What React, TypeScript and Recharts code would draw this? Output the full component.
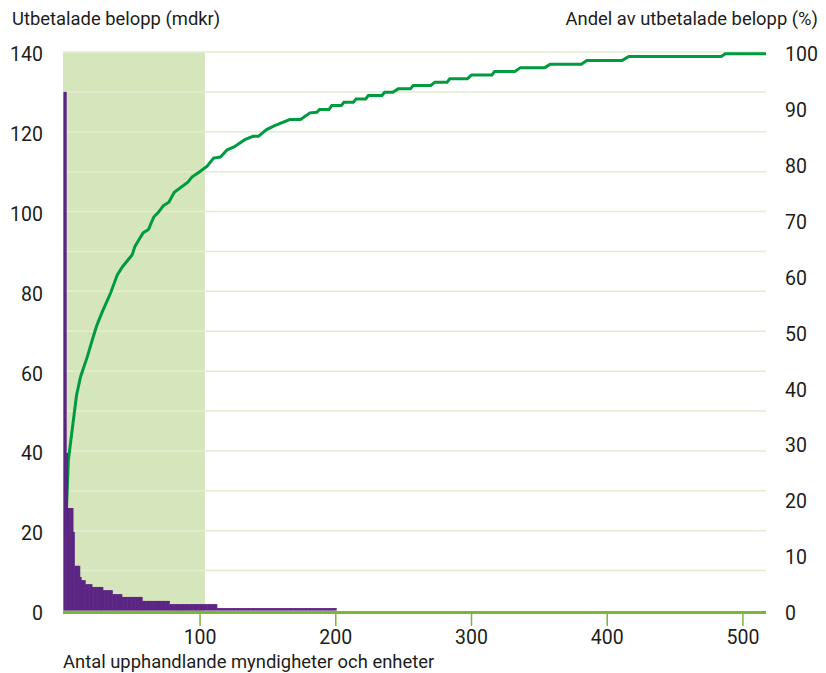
import {
  ComposedChart,
  Bar,
  Line,
  XAxis,
  YAxis,
  ReferenceArea,
  ReferenceLine,
} from 'recharts';

// Utbetalt belopp per upphandlande myndighet (mdkr), sorterat fallande
const amountValues = [
  130, 130, 39.5, 25.7, 25.7, 25.7, 25.7, 19.7, 11.2, 11.2,
  11.2, 11.2, 8.4, 7.6, 7.6, 7.6, 6.6, 6.6, 6.6, 6.6,
  6.6, 5.9, 5.9, 5.9, 5.9, 5.9, 5.9, 5.9, 5.9, 5.1,
  5.1, 5.1, 5.1, 5.1, 5.1, 5.1, 4.1, 4.1, 4.1, 4.1,
  4.1, 4.1, 4.1, 3.4, 3.4, 3.4, 3.4, 3.4, 3.4, 3.4,
  3.4, 3.4, 3.4, 3.4, 3.4, 3.4, 3.4, 3.4, 2.4, 2.4,
  2.4, 2.4, 2.4, 2.4, 2.4, 2.4, 2.4, 2.4, 2.4, 2.4,
  2.4, 2.4, 2.4, 2.4, 2.4, 2.4, 2.4, 2.4, 1.6, 1.6,
  1.6, 1.6, 1.6, 1.6, 1.6, 1.6, 1.6, 1.6, 1.6, 1.6,
  1.6, 1.6, 1.6, 1.6, 1.6, 1.6, 1.6, 1.6, 1.6, 1.6,
  1.6, 1.6, 1.6, 1.6, 1.6, 1.6, 1.6, 1.6, 1.6, 1.6,
  1.6, 1.6, 1.6, 0.6, 0.6, 0.6, 0.6, 0.6, 0.6, 0.6,
  0.6, 0.6, 0.6, 0.6, 0.6, 0.6, 0.6, 0.6, 0.6, 0.6,
  0.6, 0.6, 0.6, 0.6, 0.6, 0.6, 0.6, 0.6, 0.6, 0.6,
  0.6, 0.6, 0.6, 0.6, 0.6, 0.6, 0.6, 0.6, 0.6, 0.6,
  0.6, 0.6, 0.6, 0.6, 0.6, 0.6, 0.6, 0.6, 0.6, 0.6,
  0.6, 0.6, 0.6, 0.6, 0.6, 0.6, 0.6, 0.6, 0.6, 0.6,
  0.6, 0.6, 0.6, 0.6, 0.6, 0.6, 0.6, 0.6, 0.6, 0.6,
  0.6, 0.6, 0.6, 0.6, 0.6, 0.6, 0.6, 0.6, 0.6, 0.6,
  0.6, 0.6, 0.6, 0.6, 0.6, 0.6, 0.6, 0.6, 0.6, 0.6,
  0.6,
];

// Kumulativ andel (%) – avläst längs kurvan
const shareX = [
  1, 3, 9, 12, 17, 21, 24, 28, 34, 39, 43, 50, 52, 58, 62, 64, 66, 69, 73, 77,
  81, 91, 94, 100, 105, 110, 115, 120, 125, 133, 139, 143, 149, 155, 160, 166,
  174, 181, 186, 188, 195, 197, 204, 206, 213, 215, 222, 224, 234, 236, 242,
  246, 255, 257, 270, 273, 282, 284, 297, 300, 315, 317, 332, 336, 354, 358,
  381, 385, 411, 416, 484, 487, 517,
];
const shareValues = [
  15.0, 27.0, 38.6, 41.9, 45.5, 48.8, 51.1, 53.5, 56.8, 60.1, 61.6, 63.7, 65.2,
  67.6, 68.2, 69.4, 70.5, 71.2, 72.5, 73.1, 74.9, 76.7, 77.6, 78.6, 79.5, 81.0,
  81.2, 82.5, 83.0, 84.3, 84.9, 84.9, 86.1, 86.8, 87.3, 87.9, 87.9, 89.1, 89.2,
  89.7, 89.7, 90.4, 90.4, 91.0, 91.0, 91.6, 91.6, 92.2, 92.2, 92.8, 92.8, 93.4,
  93.4, 94.0, 94.0, 94.6, 94.6, 95.2, 95.2, 95.9, 95.9, 96.5, 96.5, 97.2, 97.2,
  97.8, 97.8, 98.5, 98.5, 99.2, 99.2, 99.7, 99.7,
];

const xTicks = [100, 200, 300, 400, 500];
const leftTicks = [0, 20, 40, 60, 80, 100, 120, 140];
const rightTicks = [0, 10, 20, 30, 40, 50, 60, 70, 80, 90, 100];
const gridValues = [10, 20, 30, 40, 50, 60, 70, 80, 90, 100, 110, 120, 130, 140];
const highlightRange = [-1, 103.6];

const FONT = 'Roboto, sans-serif';
const TEXT = '#1d1d1b';
const GREEN_AXIS = '#78b833';
const TITLE_SIZE = 18.4;

// slå ihop staplar och kurva till en tabell
const buildData = () => {
  const rows = new Map<number, any>();
  amountValues.forEach((v, i) => rows.set(i, { x: i, amount: v }));
  shareX.forEach((x, i) => {
    const row = rows.get(x) ?? { x };
    row.share = shareValues[i];
    rows.set(x, row);
  });
  return [...rows.values()].sort((a, b) => a.x - b.x);
};

const data = buildData();

const App = () => {
  return (
    <div style={{ position: 'absolute', left: 0, top: 0, width: 826, height: 673, background: '#fff' }}>
      <ComposedChart
        width={826}
        height={673}
        data={data}
        margin={{ top: 52, right: 0, bottom: 0, left: 0 }}
        style={{ fontFamily: FONT }}
      >
        <XAxis
          dataKey="x"
          type="number"
          domain={[-1, 517]}
          ticks={xTicks}
          allowDataOverflow
          height={60.5}
          axisLine={{ stroke: GREEN_AXIS, strokeWidth: 3 }}
          tickLine={{ stroke: GREEN_AXIS, strokeWidth: 1.5 }}
          tickSize={13.5}
          tickMargin={4}
          tick={{ fill: TEXT, fontSize: 19.5 }}
          label={{
            content: () => (
              <text x={63} y={668} fill={TEXT} fontSize={TITLE_SIZE} fontFamily={FONT}>
                Antal upphandlande myndigheter och enheter
              </text>
            ),
          }}
        />
        <YAxis
          yAxisId="left"
          orientation="left"
          domain={[-0.5, 140]}
          ticks={leftTicks}
          allowDataOverflow
          width={63}
          axisLine={false}
          tickLine={false}
          tickSize={0}
          tickMargin={20}
          tick={{ fill: TEXT, fontSize: 19.5, dy: 2.5 }}
          label={{
            content: () => (
              <text x={12} y={25} fill={TEXT} fontSize={TITLE_SIZE} fontFamily={FONT}>
                Utbetalade belopp (mdkr)
              </text>
            ),
          }}
        />
        <YAxis
          yAxisId="right"
          orientation="right"
          domain={[-0.357, 100]}
          ticks={rightTicks}
          allowDataOverflow
          width={60}
          axisLine={false}
          tickLine={false}
          tickSize={0}
          tickMargin={19}
          tick={{ fill: TEXT, fontSize: 19.5, textAnchor: 'start', dy: 2.5 }}
          label={{
            content: () => (
              <text x={818} y={25} fill={TEXT} fontSize={TITLE_SIZE} fontFamily={FONT} textAnchor="end">
                Andel av utbetalade belopp (%)
              </text>
            ),
          }}
        />
        <ReferenceArea
          yAxisId="left"
          x1={highlightRange[0]}
          x2={highlightRange[1]}
          y1={-0.5}
          y2={140}
          fill="#d6e6bc"
          fillOpacity={1}
          stroke="none"
          ifOverflow="hidden"
        />
        {gridValues.map((v) => (
          <ReferenceLine key={v} yAxisId="left" y={v} stroke="#e2edd0" strokeWidth={1.5} />
        ))}
        <Line
          yAxisId="right"
          dataKey="share"
          type="linear"
          stroke="#009b3e"
          strokeWidth={3}
          dot={false}
          connectNulls
          isAnimationActive={false}
          {...({ zIndex: 400 } as any)}
        />
        <Bar
          yAxisId="left"
          dataKey="amount"
          fill="#5b2583"
          barSize={1.35}
          isAnimationActive={false}
          {...({ zIndex: 450 } as any)}
          shape={(props: any) => {
            const { x, y, width, height } = props;
            if (!height) return <g />;
            // lite bredare så att staplarna blir täta block
            return <rect x={x - 0.3} y={y} width={width + 0.6} height={height} fill="#5b2583" />;
          }}
        />
      </ComposedChart>
    </div>
  );
};

export default App;
